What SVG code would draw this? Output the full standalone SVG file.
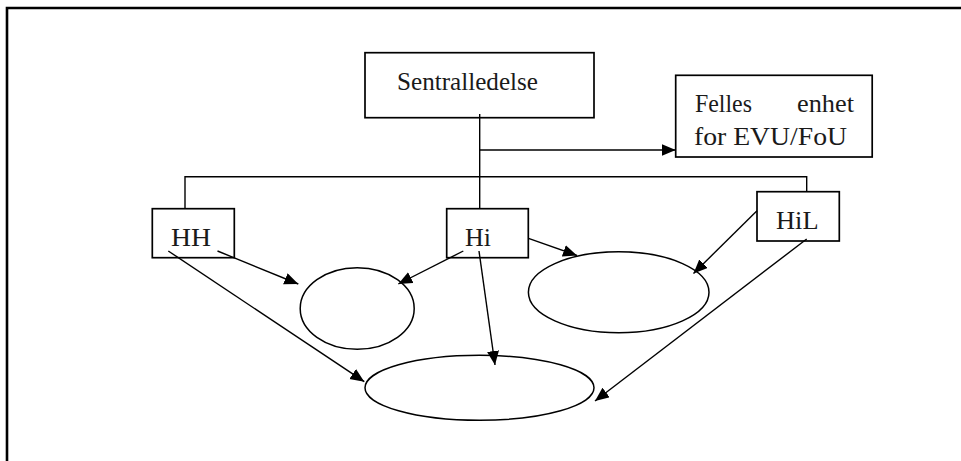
<svg xmlns="http://www.w3.org/2000/svg" width="961" height="461" viewBox="0 0 961 461">
<style>
.box{fill:#fff;stroke:#000;stroke-width:1.7}
.ell{fill:none;stroke:#000;stroke-width:1.5}
.ln{fill:none;stroke:#000;stroke-width:1.4}
.arr{fill:none;stroke:#000;stroke-width:1.4;marker-end:url(#ah)}
.frame{fill:none;stroke:#000;stroke-width:2.6}
text{font-family:"Liberation Serif","Times New Roman",serif;font-size:26px;fill:#1a1a1a}
</style>
<defs>
<marker id="ah" markerUnits="userSpaceOnUse" markerWidth="15" markerHeight="13" refX="14" refY="6" orient="auto">
<path d="M0,0 L14,6 L0,12 z" fill="#000"/>
</marker>
</defs>
<rect width="961" height="461" fill="#fff"/>
<path class="frame" d="M7,461 V8 H961"/>
<g id="sentralledelse">
<rect class="box" x="365" y="52.7" width="229" height="65"/>
<text x="397" y="90" textLength="141" lengthAdjust="spacingAndGlyphs">Sentralledelse</text>
</g>
<g id="felles">
<rect class="box" x="675.7" y="75.3" width="196.5" height="81.7"/>
<text x="695" y="112" textLength="57" lengthAdjust="spacingAndGlyphs">Felles</text>
<text x="797" y="112" textLength="57" lengthAdjust="spacingAndGlyphs">enhet</text>
<text x="694" y="145" textLength="153" lengthAdjust="spacingAndGlyphs">for EVU/FoU</text>
</g>
<g id="hh">
<rect class="box" x="152.3" y="208.7" width="82" height="49"/>
<text x="171" y="246" textLength="40" lengthAdjust="spacingAndGlyphs">HH</text>
</g>
<g id="hi">
<rect class="box" x="446.7" y="208.7" width="81.6" height="49"/>
<text x="465" y="246" textLength="26" lengthAdjust="spacingAndGlyphs">Hi</text>
</g>
<g id="hil">
<rect class="box" x="757" y="191.7" width="82.3" height="49.3"/>
<text x="776" y="229" textLength="42.5" lengthAdjust="spacingAndGlyphs">HiL</text>
</g>
<g id="ellipse-small">
<ellipse class="ell" cx="357.2" cy="308.5" rx="57" ry="40.8"/>
</g>
<g id="ellipse-right">
<ellipse class="ell" cx="618.7" cy="292.2" rx="90.3" ry="40.5"/>
</g>
<g id="ellipse-bottom">
<ellipse class="ell" cx="479.5" cy="387.8" rx="114.5" ry="32.5"/>
</g>
<g id="connectors">
<line class="ln" x1="479.7" y1="114" x2="479.7" y2="208.7"/>
<line class="arr" x1="479.7" y1="150" x2="675.7" y2="150"/>
<path class="ln" d="M185,208.7 V176.7 H806.7 V191.7"/>
<line class="arr" x1="217.5" y1="251" x2="298.3" y2="284"/>
<line class="arr" x1="168.3" y1="251" x2="364.3" y2="381.7"/>
<line class="arr" x1="463.3" y1="251" x2="398.3" y2="284"/>
<line class="arr" x1="479" y1="251" x2="495" y2="365"/>
<line class="arr" x1="528.5" y1="238.3" x2="577" y2="255.5"/>
<line class="arr" x1="757" y1="210.7" x2="693.5" y2="273.5"/>
<line class="arr" x1="806.7" y1="239" x2="595" y2="401"/>
</g>
</svg>
